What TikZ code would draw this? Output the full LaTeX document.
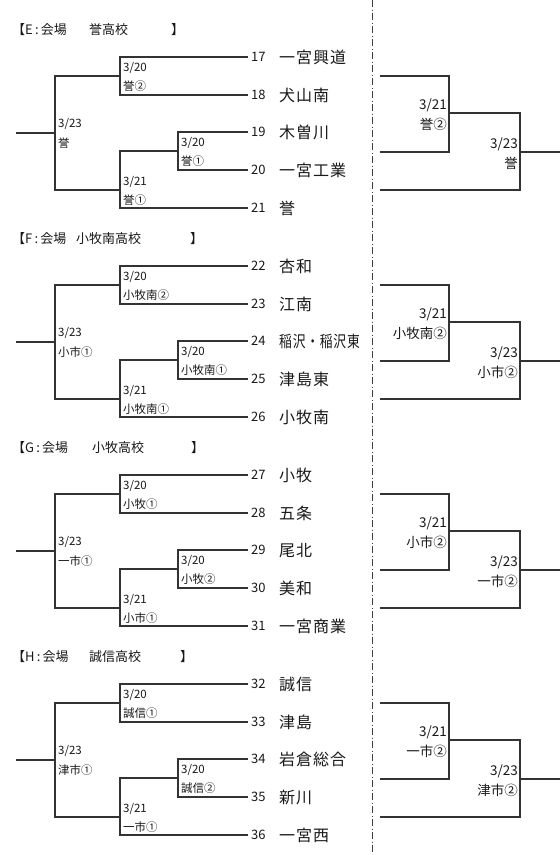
\documentclass[tikz,border=0pt]{standalone}
\usepackage{fontspec}
\setmainfont{Noto Sans CJK JP}
\newcommand\bsec[2]{%
 \begin{scope}[yshift=-#2pt]
  \coordinate (#1t1) at (248,57);
  \coordinate (#1t2) at (248,95);
  \coordinate (#1t3) at (248,132);
  \coordinate (#1t4) at (248,170);
  \coordinate (#1t5) at (248,208);
  \coordinate (#1j1) at (120,76);
  \coordinate (#1j2) at (178,151);
  \coordinate (#1j3) at (120,190);
  \coordinate (#1j4) at (55,133);
  \coordinate (#1s) at (16,133);
  \coordinate (#1r1) at (380,76);
  \coordinate (#1r2) at (380,152);
  \coordinate (#1r3) at (380,190);
  \coordinate (#1k1) at (449,113);
  \coordinate (#1k2) at (520,152);
  \coordinate (#1e) at (560,152);
  \coordinate (#1ttl) at (12,30);
 \end{scope}
 \draw[ln] (#1t1) -| (#1j1) |- (#1t2);
 \draw[ln] (#1t3) -| (#1j2) |- (#1t4);
 \draw[ln] (#1j2) -| (#1j3) |- (#1t5);
 \draw[ln] (#1j1) -| (#1j4) |- (#1j3);
 \draw[ln] (#1j4) -- (#1s);
 \draw[ln] (#1r1) -| (#1k1) |- (#1r2);
 \draw[ln] (#1k1) -| (#1k2) |- (#1r3);
 \draw[ln] (#1k2) -- (#1e);
}
\newcommand\blbls[7]{%
 \node[lbl] (#1da) at ([xshift=3pt,yshift=9pt]#1j1) {3/20};
 \node[lbl] (#1wa) at ([xshift=3pt,yshift=-10pt]#1j1) {#2};
 \node[lbl] (#1db) at ([xshift=3pt,yshift=9pt]#1j2) {3/20};
 \node[lbl] (#1wb) at ([xshift=3pt,yshift=-10pt]#1j2) {#3};
 \node[lbl] (#1dc) at ([xshift=3pt,yshift=9pt]#1j3) {3/21};
 \node[lbl] (#1wc) at ([xshift=3pt,yshift=-10pt]#1j3) {#4};
 \node[lbl] (#1dd) at ([xshift=3pt,yshift=10pt]#1j4) {3/23};
 \node[lbl] (#1wd) at ([xshift=3pt,yshift=-10pt]#1j4) {#5};
 \node[rlbl] (#1dk) at ([xshift=-2pt,yshift=9pt]#1k1) {3/21};
 \node[rlbl] (#1wk) at ([xshift=-2pt,yshift=-11pt]#1k1) {#6};
 \node[rlbl] (#1dl) at ([xshift=-2pt,yshift=9pt]#1k2) {3/23};
 \node[rlbl] (#1wl) at ([xshift=-2pt,yshift=-11pt]#1k2) {#7};
}
\newcommand\bteams[7]{%
 \node[num] (#1n1) at ([xshift=3pt]#1t1) {#2};
 \node[num] (#1n2) at ([xshift=3pt]#1t2) {\the\numexpr#2+1\relax};
 \node[num] (#1n3) at ([xshift=3pt]#1t3) {\the\numexpr#2+2\relax};
 \node[num] (#1n4) at ([xshift=3pt]#1t4) {\the\numexpr#2+3\relax};
 \node[num] (#1n5) at ([xshift=3pt]#1t5) {\the\numexpr#2+4\relax};
 \node[team] (#1m1) at ([xshift=31pt]#1t1) {#3};
 \node[team] (#1m2) at ([xshift=31pt]#1t2) {#4};
 \node[team] (#1m3) at ([xshift=31pt]#1t3) {#5};
 \node[team] (#1m4) at ([xshift=31pt]#1t4) {#6};
 \node[team] (#1m5) at ([xshift=31pt]#1t5) {#7};
}
\newcommand\btitle[5]{%
 \node[ttl] (#1title) at (#1ttl) {\makebox[#4pt][l]{【#2\,:\,会場}\makebox[#5pt][l]{#3}】};
}
\begin{document}
\begin{tikzpicture}[x=1pt,y=-1pt,
  ln/.style={line width=1.1pt, color=black!80},
  txt/.style={inner sep=0pt, text=black!90},
  lbl/.style={txt, anchor=west, text height=10.1pt, text depth=1.4pt, font=\fontsize{11.5}{12}\selectfont},
  rlbl/.style={txt, anchor=east, text height=11.9pt, text depth=1.6pt, font=\fontsize{13.5}{14}\selectfont},
  num/.style={txt, anchor=west, text height=11.4pt, text depth=1.6pt, font=\fontsize{13}{14}\selectfont},
  team/.style={txt, anchor=west, text height=14.1pt, text depth=1.9pt, font=\fontsize{16}{17}\selectfont\addfontfeature{LetterSpace=6}},
  ttl/.style={txt, anchor=west, text height=11.4pt, text depth=1.6pt, font=\fontsize{13}{14}\selectfont},
]
\fill[white] (0,0) rectangle (560,855);
\useasboundingbox (0,0) rectangle (560,855);
\coordinate (dtop) at (372,0);
\coordinate (dbot) at (372,855);
\draw[line width=0.9pt, color=black!75, dash pattern=on 7pt off 2.5pt on 1pt off 2.5pt] (dtop) -- (dbot);

\bsec{E}{0}
\bsec{F}{209}
\bsec{G}{418}
\bsec{H}{627}

\btitle{E}{E}{誉高校}{77}{82}
\btitle{F}{F}{小牧南高校}{64}{114}
\btitle{G}{G}{小牧高校}{80}{99}
\btitle{H}{H}{誠信高校}{77}{91}

\blbls{E}{誉②}{誉①}{誉①}{誉}{誉②}{誉}
\blbls{F}{小牧南②}{小牧南①}{小牧南①}{小市①}{小牧南②}{小市②}
\blbls{G}{小牧①}{小牧②}{小市①}{一市①}{小市②}{一市②}
\blbls{H}{誠信①}{誠信②}{一市①}{津市①}{一市②}{津市②}

\bteams{E}{17}{一宮興道}{犬山南}{木曽川}{一宮工業}{誉}
\bteams{F}{22}{杏和}{江南}{\scalebox{0.8}[1]{稲沢・稲沢東}}{津島東}{小牧南}
\bteams{G}{27}{小牧}{五条}{尾北}{美和}{一宮商業}
\bteams{H}{32}{誠信}{津島}{岩倉総合}{新川}{一宮西}
\end{tikzpicture}
\end{document}
